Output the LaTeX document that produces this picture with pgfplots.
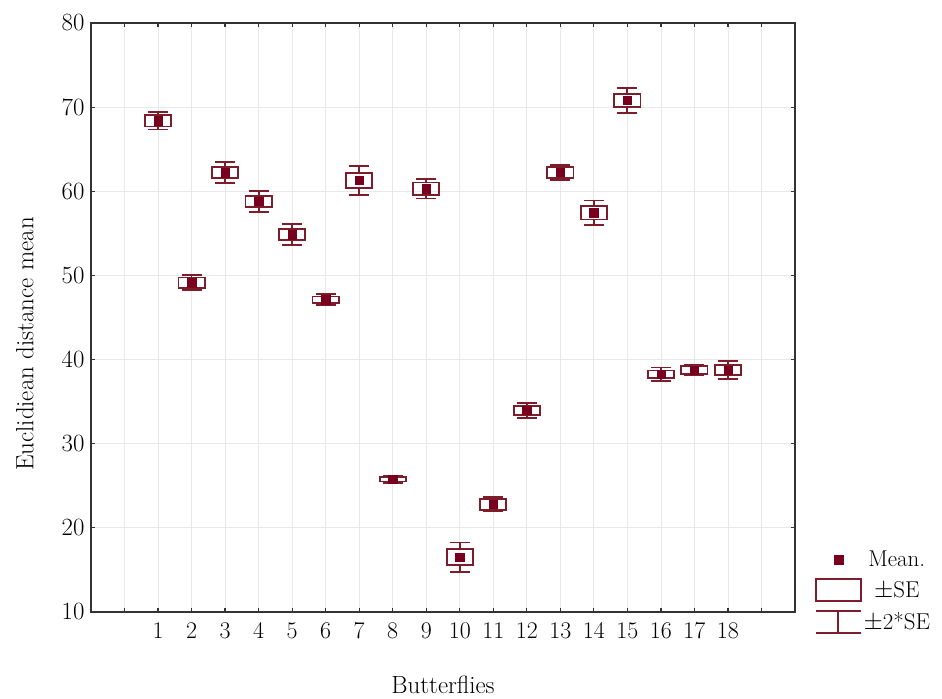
\documentclass[border=0pt]{standalone}
\usepackage{pgfplots}
\pgfplotsset{compat=1.18}
\usepgfplotslibrary{statistics}
\definecolor{mar}{RGB}{125,28,42}
\definecolor{marfill}{RGB}{120,0,30}
\definecolor{gridc}{RGB}{232,232,232}
\begin{document}
\begin{tikzpicture}
\begin{axis}[
  scale only axis, width=704bp, height=589bp,
  xmin=-1, xmax=20, ymin=10, ymax=80,
  xtick={0,...,19},
  xticklabels={{},1,2,3,4,5,6,7,8,9,10,11,12,13,14,15,16,17,18,{}},
  ytick={10,20,...,80},
  tick align=inside, major tick length=4bp,
  tick style={line width=1.2bp, color=black!80},
  axis line style={line width=1.5bp, color=black!80},
  grid=major, major grid style={line width=0.8bp, color=gridc},
  tick label style={font=\fontsize{24}{28}\selectfont},
  xticklabel style={yshift=-7bp},
  yticklabel style={xshift=-3bp},
  label style={font=\fontsize{25}{30}\selectfont},
  xlabel={Butterflies}, ylabel={Euclidiean distance mean},
  xlabel style={at={(axis description cs:0.5,-0.124)}, anchor=center},
  ylabel style={at={(axis description cs:-0.094,0.455)}, anchor=center, rotate=0},
  legend style={at={(1.028,0.107)}, anchor=north west, draw=none, fill=none,
    font=\fontsize{23}{26}\selectfont, inner sep=0pt, row sep=8bp,
    /tikz/every even column/.append style={column sep=13bp}},
  legend cell align=center,
  boxplot/draw direction=y,
  boxplot/every box/.style={draw=mar, line width=1.8bp, fill=none},
  boxplot/every whisker/.style={draw=mar, line width=1.8bp},
  boxplot/every median/.style={draw=mar, line width=1.8bp},
]
\addlegendimage{legend image code/.code={\path (0bp,0bp) (45bp,0bp); \fill[marfill] (18.5bp,-4.5bp) rectangle (27.5bp,4.5bp);}}
\addlegendentry{Mean.}
\addlegendimage{legend image code/.code={\draw[mar, line width=1.7bp] (0bp,-11bp) rectangle (45bp,11bp);}}
\addlegendentry{$\pm$SE}
\addlegendimage{legend image code/.code={\draw[mar, line width=1.7bp] (0bp,11bp) -- (45bp,11bp) (0bp,-11bp) -- (45bp,-11bp) (22.5bp,-11bp) -- (22.5bp,11bp);}}
\addlegendentry{$\pm$2*SE}

% boxes: lower whisker (mean-2SE), lower quartile (mean-SE), upper quartile (mean+SE), upper whisker (mean+2SE)
\addplot[forget plot, boxplot prepared={draw position=1, lower whisker=67.35, lower quartile=67.7, median=67.7, upper quartile=69.1, upper whisker=69.45, box extend=0.78, whisker extend=0.6}] coordinates {};
\addplot[forget plot, boxplot prepared={draw position=2, lower whisker=48.25, lower quartile=48.55, median=48.55, upper quartile=49.75, upper whisker=50.05, box extend=0.78, whisker extend=0.6}] coordinates {};
\addplot[forget plot, boxplot prepared={draw position=3, lower whisker=60.95, lower quartile=61.55, median=61.55, upper quartile=62.85, upper whisker=63.45, box extend=0.78, whisker extend=0.6}] coordinates {};
\addplot[forget plot, boxplot prepared={draw position=4, lower whisker=57.55, lower quartile=58.15, median=58.15, upper quartile=59.45, upper whisker=60.05, box extend=0.78, whisker extend=0.6}] coordinates {};
\addplot[forget plot, boxplot prepared={draw position=5, lower whisker=53.6, lower quartile=54.2, median=54.2, upper quartile=55.5, upper whisker=56.1, box extend=0.78, whisker extend=0.6}] coordinates {};
\addplot[forget plot, boxplot prepared={draw position=6, lower whisker=46.45, lower quartile=46.7, median=46.7, upper quartile=47.5, upper whisker=47.75, box extend=0.78, whisker extend=0.6}] coordinates {};
\addplot[forget plot, boxplot prepared={draw position=7, lower whisker=59.6, lower quartile=60.4, median=60.4, upper quartile=62.2, upper whisker=63.0, box extend=0.78, whisker extend=0.6}] coordinates {};
\addplot[forget plot, boxplot prepared={draw position=8, lower whisker=25.35, lower quartile=25.5, median=25.5, upper quartile=26.0, upper whisker=26.15, box extend=0.78, whisker extend=0.6}] coordinates {};
\addplot[forget plot, boxplot prepared={draw position=9, lower whisker=59.15, lower quartile=59.55, median=59.55, upper quartile=61.05, upper whisker=61.45, box extend=0.78, whisker extend=0.6}] coordinates {};
\addplot[forget plot, boxplot prepared={draw position=10, lower whisker=14.75, lower quartile=15.55, median=15.55, upper quartile=17.45, upper whisker=18.25, box extend=0.78, whisker extend=0.6}] coordinates {};
\addplot[forget plot, boxplot prepared={draw position=11, lower whisker=21.95, lower quartile=22.15, median=22.15, upper quartile=23.45, upper whisker=23.65, box extend=0.78, whisker extend=0.6}] coordinates {};
\addplot[forget plot, boxplot prepared={draw position=12, lower whisker=33.05, lower quartile=33.4, median=33.4, upper quartile=34.5, upper whisker=34.85, box extend=0.78, whisker extend=0.6}] coordinates {};
\addplot[forget plot, boxplot prepared={draw position=13, lower whisker=61.35, lower quartile=61.6, median=61.6, upper quartile=62.9, upper whisker=63.15, box extend=0.78, whisker extend=0.6}] coordinates {};
\addplot[forget plot, boxplot prepared={draw position=14, lower whisker=56.0, lower quartile=56.65, median=56.65, upper quartile=58.25, upper whisker=58.9, box extend=0.78, whisker extend=0.6}] coordinates {};
\addplot[forget plot, boxplot prepared={draw position=15, lower whisker=69.3, lower quartile=70.0, median=70.0, upper quartile=71.6, upper whisker=72.3, box extend=0.78, whisker extend=0.6}] coordinates {};
\addplot[forget plot, boxplot prepared={draw position=16, lower whisker=37.45, lower quartile=37.8, median=37.8, upper quartile=38.7, upper whisker=39.05, box extend=0.78, whisker extend=0.6}] coordinates {};
\addplot[forget plot, boxplot prepared={draw position=17, lower whisker=38.1, lower quartile=38.3, median=38.3, upper quartile=39.2, upper whisker=39.4, box extend=0.78, whisker extend=0.6}] coordinates {};
\addplot[forget plot, boxplot prepared={draw position=18, lower whisker=37.65, lower quartile=38.15, median=38.15, upper quartile=39.35, upper whisker=39.85, box extend=0.78, whisker extend=0.6}] coordinates {};

% means
\addplot[forget plot, only marks, mark=square*, mark size=4.2bp, color=marfill] coordinates {
(1,68.4) (2,49.15) (3,62.2) (4,58.8) (5,54.85) (6,47.1) (7,61.3) (8,25.75) (9,60.3)
(10,16.5) (11,22.8) (12,33.95) (13,62.25) (14,57.45) (15,70.8) (16,38.25) (17,38.75) (18,38.75)};
\end{axis}
\pgfresetboundingbox
\path ([xshift=-91bp,yshift=-87bp]current axis.south west) rectangle ([xshift=147bp,yshift=23bp]current axis.north east);
\end{tikzpicture}
\end{document}
